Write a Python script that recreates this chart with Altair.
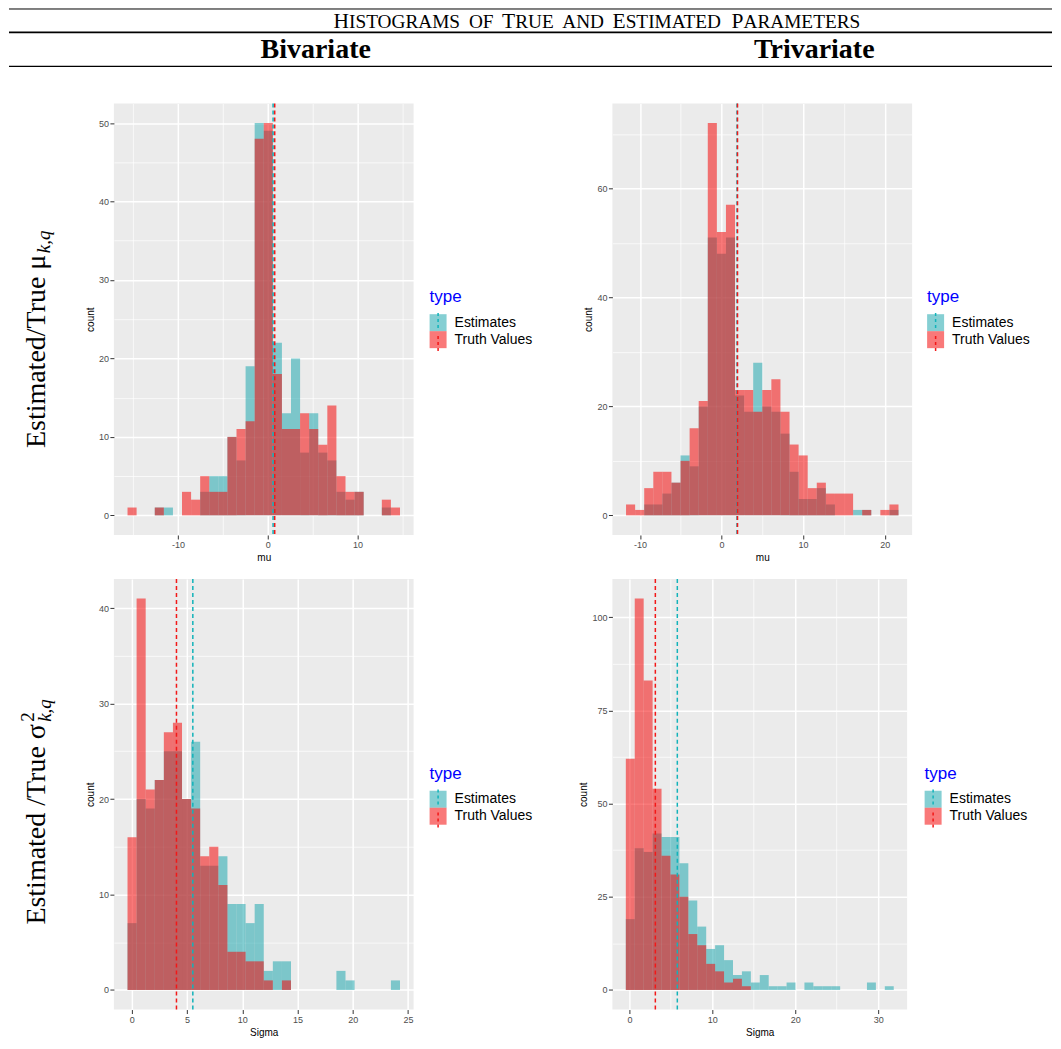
import altair as alt
import pandas as pd

TYPES = ["Estimates", "Truth Values"]

# ---------------- data (30 histogram bins per panel) ----------------
MU_BI_START, MU_BI_WIDTH = -15.62, 1.012
MU_BI_EST = [0, 0, 0, 1, 1, 0, 0, 0, 3, 5, 5, 10, 7, 19, 50, 49, 22, 13, 20, 8, 13, 8, 7, 3, 2, 3, 0, 0, 1, 0]
MU_BI_TRU = [1, 0, 0, 1, 0, 0, 3, 2, 5, 3, 3, 10, 11, 12, 48, 50, 18, 11, 11, 13, 11, 9, 14, 5, 3, 3, 0, 0, 2, 1]
MU_BI_MEANS = [0.60, 0.78]

MU_TRI_START, MU_TRI_WIDTH = -11.70, 1.113
MU_TRI_EST = [0, 0, 2, 2, 4, 6, 11, 9, 20, 51, 48, 51, 22, 19, 28, 20, 19, 15, 8, 3, 3, 5, 2, 0, 0, 1, 1, 0, 0, 1]
MU_TRI_TRU = [2, 1, 5, 8, 8, 6, 10, 16, 21, 72, 52, 57, 23, 23, 19, 23, 25, 19, 13, 11, 5, 6, 4, 4, 4, 0, 1, 0, 1, 2]
MU_TRI_MEANS = [1.90, 1.96]

SIG_BI_START, SIG_BI_WIDTH = -0.39, 0.822
SIG_BI_EST = [7, 20, 19, 22, 25, 25, 20, 26, 13, 13, 14, 9, 9, 7, 9, 2, 3, 3, 0, 0, 0, 0, 0, 2, 1, 0, 0, 0, 0, 1]
SIG_BI_TRU = [16, 41, 21, 22, 27, 28, 20, 19, 14, 15, 11, 4, 4, 3, 3, 1, 0, 1, 0, 0, 0, 0, 0, 0, 0, 0, 0, 0, 0, 0]
SIG_BI_MEANS = [5.52, 4.04]

SIG_TRI_START, SIG_TRI_WIDTH = -0.43, 1.077
SIG_TRI_EST = [19, 38, 37, 42, 41, 41, 34, 24, 17, 11, 12, 8, 4, 5, 2, 4, 1, 1, 2, 0, 2, 1, 1, 1, 0, 0, 0, 2, 0, 1]
SIG_TRI_TRU = [62, 105, 83, 54, 36, 31, 25, 15, 12, 7, 5, 2, 3, 1, 0, 0, 0, 0, 0, 0, 0, 0, 0, 0, 0, 0, 0, 0, 0, 0]
SIG_TRI_MEANS = [5.78, 3.13]

# tick values (major + minor grid positions)
P1_X = [-15, -10, -5, 0, 5, 10, 15]
P1_Y = [0, 5, 10, 15, 20, 25, 30, 35, 40, 45, 50]
P2_X = [-10, -5, 0, 5, 10, 15, 20]
P2_Y = [0, 10, 20, 30, 40, 50, 60, 70]
P3_X = [0, 2.5, 5, 7.5, 10, 12.5, 15, 17.5, 20, 22.5, 25]
P3_Y = [0, 5, 10, 15, 20, 25, 30, 35, 40]
P4_X = [0, 5, 10, 15, 20, 25, 30]
P4_Y = [0, 12.5, 25, 37.5, 50, 62.5, 75, 87.5, 100]

TITLE = "Histograms of True and Estimated Parameters"
COL_TITLES = ["Bivariate", "Trivariate"]

# ---------------- styling ----------------
SANS = "Liberation Sans"
SERIF = "Liberation Serif"
FILL_RANGE = ["#21A8AF", "#F40B0B"]
LINE_RANGE = ["#13B3BA", "#F21818"]
BAR_OPACITY = 0.55
ONE = pd.DataFrame({"k": [0]})

# Times/Liberation Serif advance widths (em) for capitals, used to lay out small caps
CAP_W = {"A": .722, "B": .667, "C": .667, "D": .722, "E": .611, "F": .556, "G": .722,
         "H": .722, "I": .333, "J": .389, "K": .722, "L": .611, "M": .889, "N": .722,
         "O": .722, "P": .556, "Q": .722, "R": .667, "S": .556, "T": .611, "U": .722,
         "V": .722, "W": .944, "X": .722, "Y": .722, "Z": .611}


def hist_df(start, width, est, tru):
    rows = []
    for t, counts in zip(TYPES, (est, tru)):
        for i, c in enumerate(counts):
            if c:
                rows.append({"type": t, "lo": start + i * width,
                             "hi": start + (i + 1) * width, "base": 0, "count": c})
    return pd.DataFrame(rows)


def xdomain(start, width, n):
    lo, hi = start, start + n * width
    pad = 0.05 * (hi - lo)
    return [lo - pad, hi + pad]


def ydomain(est, tru):
    m = max(max(est), max(tru))
    return [-0.05 * m, 1.05 * m]


def axis(title, values, step):
    minor = f"abs(datum.value % {step}) > 1e-6"
    return alt.Axis(
        title=title, values=values, domain=False,
        labelExpr=f"{minor} ? '' : replace(datum.label, '\u2212', '-')",
        labelOverlap=False, labelFlush=False,
        gridColor="white",
        gridWidth={"condition": {"test": minor, "value": 0.7}, "value": 1.5},
        tickColor={"condition": {"test": minor, "value": "transparent"}, "value": "#333333"},
        tickSize=4, tickWidth=1,
        labelFont=SANS, labelFontSize=9, labelColor="#4D4D4D", labelPadding=1.5,
        titleFont=SANS, titleFontSize=10, titleFontWeight="normal", titleColor="black",
        titlePadding=3,
    )


def legends(lx, ly):
    fill_leg = alt.Legend(
        title="type", orient="none", legendX=lx, legendY=ly, padding=0,
        titleColor="#0000FF", titleFont=SANS, titleFontSize=17, titleFontWeight="normal",
        titlePadding=8, labelFont=SANS, labelFontSize=14, labelColor="black", labelOffset=8,
        rowPadding=0, symbolType="square", symbolSize=289, symbolOpacity=BAR_OPACITY,
        symbolStrokeWidth=0)
    line_leg = alt.Legend(
        title=None, orient="none", legendX=lx, legendY=ly + 23, padding=0,
        labelExpr="''", labelFontSize=14, labelOffset=8, rowPadding=0,
        symbolType="M0,-1L0,1", symbolSize=240, symbolStrokeWidth=1.5, symbolDash=[3, 3])
    return fill_leg, line_leg


def txt(text, x, y, size, font=SERIF, weight="normal", style="normal", angle=0, align="center"):
    return alt.Chart(ONE).mark_text(
        text=text, fontSize=size, font=font, fontWeight=weight, fontStyle=style,
        angle=angle, align=align, baseline="alphabetic", color="black",
    ).encode(x=alt.value(x), y=alt.value(y))


def smallcaps(text, cx, y, big, small, space):
    segs = []
    for word in text.split(" "):
        rest = word
        if word[0].isupper():
            segs.append((word[0], big))
            rest = word[1:]
        if rest:
            segs.append((rest.upper(), small))
        segs.append((None, space))
    segs = segs[:-1]
    widths = [sz if s is None else sum(CAP_W[ch] for ch in s) * sz for s, sz in segs]
    x = cx - sum(widths) / 2
    layers = []
    for (s, sz), w in zip(segs, widths):
        if s is not None:
            layers.append(txt(s, x, y, sz, align="left"))
        x += w
    return layers


def hrule(x1, x2, y, w):
    return alt.Chart(ONE).mark_rule(color="black", strokeWidth=w).encode(
        x=alt.value(x1), x2=alt.value(x2), y=alt.value(y))


def panel(start, width, est, tru, means, xtitle, xvals, xstep, yvals, ystep,
          w, h, lx, ly, extra=()):
    df = hist_df(start, width, est, tru)
    fill_leg, line_leg = legends(lx, ly)
    bars = alt.Chart(df).mark_rect(opacity=BAR_OPACITY).encode(
        x=alt.X("lo:Q", scale=alt.Scale(domain=xdomain(start, width, len(est)), nice=False, zero=False),
                axis=axis(xtitle, xvals, xstep)),
        x2="hi:Q",
        y=alt.Y("base:Q", scale=alt.Scale(domain=ydomain(est, tru), nice=False, zero=False),
                axis=axis("count", yvals, ystep)),
        y2="count:Q",
        fill=alt.Fill("type:N", scale=alt.Scale(domain=TYPES, range=FILL_RANGE), legend=fill_leg),
    )
    mdf = pd.DataFrame({"type": TYPES, "mean": means})
    lines = alt.Chart(mdf).mark_rule(strokeDash=[4, 3], strokeWidth=1.5).encode(
        x="mean:Q",
        stroke=alt.Stroke("type:N", scale=alt.Scale(range=LINE_RANGE), legend=line_leg),
    )
    return alt.layer(bars, lines, *extra).properties(width=w, height=h)


# header and row labels, positioned relative to the top-left / bottom-left panels
header = [
    hrule(-105, 939, -94.5, 1),
    *smallcaps(TITLE, 483.5, -75.7, 21.5, 19.3, 8.5),
    hrule(-105, 939, -71, 1.8),
    txt(COL_TITLES[0], 202, -45.5, 28, weight="bold"),
    txt(COL_TITLES[1], 701, -45.5, 28, weight="bold"),
    hrule(-105, 939, -37, 1.2),
    txt("Estimated/True μ", -69, 345, 28, angle=270, align="left"),
    txt("k,q", -64, 150, 19, style="italic", angle=270, align="left"),
]
row2_label = [
    txt("Estimated /True σ", -69, 346, 28, angle=270, align="left"),
    txt("2", -80, 143, 19, angle=270, align="left"),
    txt("k,q", -63, 143, 19, style="italic", angle=270, align="left"),
]

p1 = panel(MU_BI_START, MU_BI_WIDTH, MU_BI_EST, MU_BI_TRU, MU_BI_MEANS, "mu",
           P1_X, 10, P1_Y, 10, 300, 432, 316, 186, header)
p2 = panel(MU_TRI_START, MU_TRI_WIDTH, MU_TRI_EST, MU_TRI_TRU, MU_TRI_MEANS, "mu",
           P2_X, 10, P2_Y, 20, 300, 432, 315, 186)
p3 = panel(SIG_BI_START, SIG_BI_WIDTH, SIG_BI_EST, SIG_BI_TRU, SIG_BI_MEANS, "Sigma",
           P3_X, 5, P3_Y, 10, 300, 431, 316, 187, row2_label)
p4 = panel(SIG_TRI_START, SIG_TRI_WIDTH, SIG_TRI_EST, SIG_TRI_TRU, SIG_TRI_MEANS, "Sigma",
           P4_X, 10, P4_Y, 25, 295, 431, 312.5, 187)

chart = alt.concat(
    p1, p2, p3, p4, columns=2, bounds="flush", center=True,
    spacing={"row": 44, "column": 199},
).resolve_scale(
    fill="independent", stroke="independent"
).resolve_legend(
    fill="independent", stroke="independent"
).properties(padding=0, background="white").configure_view(fill="#EBEBEB", strokeWidth=0)

chart.save("out.html", embed_options={"renderer": "svg", "actions": False})
